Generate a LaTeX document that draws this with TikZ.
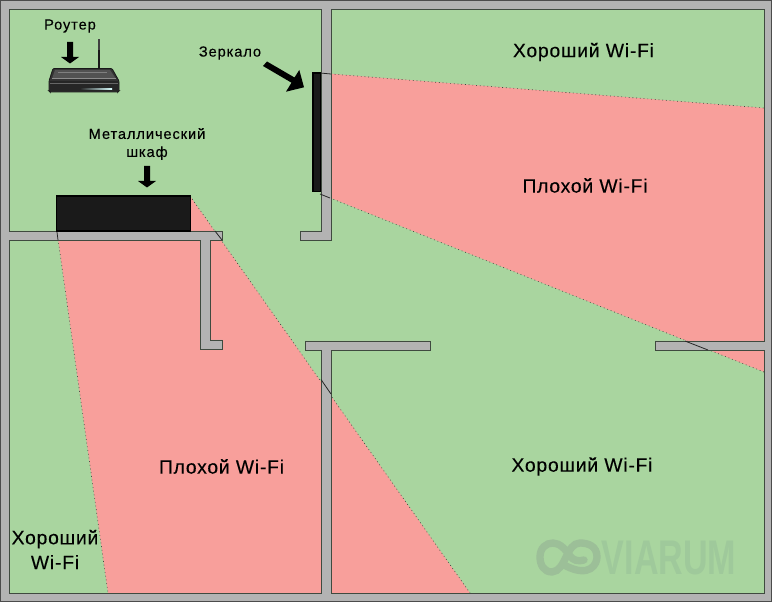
\documentclass[tikz,border=0pt]{standalone}
\usepackage{fontspec}
\setmainfont{Liberation Sans}
\newfontfamily\smallf[LetterSpace=6,FakeBold=0.15]{Liberation Sans}
\newfontfamily\bigf[LetterSpace=4,FakeBold=0.15]{Liberation Sans}
\definecolor{roomgreen}{HTML}{A9D59F}
\definecolor{badpink}{HTML}{F89F9B}
\definecolor{wallgray}{HTML}{B3B3B3}
\definecolor{edgedark}{HTML}{3F4A3F}
\definecolor{marksoft}{HTML}{9FC99B}
\definecolor{logosoft}{HTML}{9CBF98}
\definecolor{cabinetblack}{HTML}{1A1A1A}
\tikzset{
  wallline/.style={draw=edgedark,line width=.65pt,line join=miter},
  beamedge/.style={draw=edgedark,line width=.5pt,dash pattern=on .6pt off 2.2pt},
  beamwall/.style={draw=black!85,line width=.6pt},
  blockarrow/.style={fill=black,draw=none},
  smalllabel/.style={font=\fontsize{11pt}{13.5pt}\selectfont\smallf,text=black,inner sep=0pt,align=center},
  biglabel/.style={font=\fontsize{14.5pt}{18.6pt}\selectfont\bigf,text=black,inner sep=0pt,align=center},
  darkbox/.style={fill=cabinetblack,draw=black,line width=1pt}
}
\begin{document}
\begin{tikzpicture}[x=0.75pt,y=-0.75pt]
\useasboundingbox (0,0) rectangle (772,602);
\fill[wallgray] (0,0) rectangle (772,602);
\fill[roomgreen] (9,9) rectangle (764,593);
% pink zones
\fill[badpink] (321,73) -- (764,108) -- (764,372) -- (321,194) -- cycle;
\fill[badpink] (190,196) -- (470,593) -- (108,593) -- (57,232) -- cycle;
% beam edges
\draw[beamedge] (331,74) -- (764,108);
\draw[beamedge] (330,198) -- (764,372);
\draw[beamedge] (190,196) -- (470,593);
\draw[beamedge] (57,232) -- (108,593);
% walls
\path[fill=wallgray,even odd rule] (0,0) rectangle (772,602)
 (9,9) -- (321,9) -- (321,231) -- (300,231) -- (300,240) -- (331,240) -- (331,9) -- (764,9) -- (764,341) -- (655,341) -- (655,350) -- (764,350) -- (764,593) -- (331,593) -- (331,350) -- (430,350) -- (430,341) -- (305,341) -- (305,350) -- (321,350) -- (321,593) -- (9,593) -- (9,240) -- (200,240) -- (200,349) -- (222,349) -- (222,340) -- (210,340) -- (210,240) -- (222,240) -- (222,231) -- (9,231) -- cycle;
\draw[wallline]
 (9,9) -- (321,9) -- (321,231) -- (300,231) -- (300,240) -- (331,240) -- (331,9) -- (764,9) -- (764,341) -- (655,341) -- (655,350) -- (764,350) -- (764,593) -- (331,593) -- (331,350) -- (430,350) -- (430,341) -- (305,341) -- (305,350) -- (321,350) -- (321,593) -- (9,593) -- (9,240) -- (200,240) -- (200,349) -- (222,349) -- (222,340) -- (210,340) -- (210,240) -- (222,240) -- (222,231) -- (9,231) -- cycle;
\draw[draw=black!70,line width=.8pt] (.5,.5) rectangle (771.5,601.5);
% beam lines across walls
\draw[beamwall] (320,73) -- (331,74);
\draw[beamwall] (320,194) -- (330,198);
\draw[beamwall] (57,232) -- (58,240);
\draw[beamwall] (215,231) -- (222,240);
\draw[beamwall] (321,379.5) -- (331,394);
\draw[beamwall] (685,341) -- (708,350);
% cabinet and mirror
\path[darkbox] (56.5,196) rectangle (190.5,231);
\path[darkbox] (313,73) rectangle (320.5,191.5);
% arrows
\path[blockarrow] (67,42) -- (73,42) -- (73,57) -- (79,57) -- (70,63.5) -- (61,57) -- (67,57) -- cycle;
\path[blockarrow] (144,166) -- (150,166) -- (150,181) -- (156,181) -- (147,187.5) -- (138,181) -- (144,181) -- cycle;
\path[blockarrow] (263,66) -- (267,61.5) -- (294.5,77.5) -- (299.3,70) -- (304,87.3) -- (286,91.7) -- (291.5,82.7) -- cycle;
% router
\fill[black!75] (98.3,39) rectangle (99.7,50);
\fill[black!90] (98,50) rectangle (100,68);
\path[fill=black!80,draw=black!90,line width=.6pt,rounded corners=.8pt] (53,68.5) -- (112,68.5) -- (119,81) -- (119,91) -- (118,92) -- (50,92) -- (49,91) -- (49,81) -- cycle;
\fill[black!68] (52,79) -- (55,70) -- (110,70) -- (116,79) -- cycle;
\draw[black!50,line width=.5pt] (58,72) -- (107,72);
\draw[black!45,line width=.5pt] (52,78.5) -- (116,78.5);
\fill[black!85] (49.5,81) rectangle (118.5,91.5);
\draw[black!60,line width=.4pt] (50,83) -- (118,83);
\shade[left color=black!85,right color=cyan!15!white] (80,88.5) rectangle (112,89.3);
% labels
\node[smalllabel] (router) at (70,26) {Роутер};
\node[smalllabel] (mirror) at (230,53) {Зеркало};
\node[smalllabel] (cabinet) at (147,144) {Металлический\\шкаф};
\node[biglabel] (goodtop) at (583.5,52) {Хороший Wi-Fi};
\node[biglabel] (badtop) at (585,185.5) {Плохой Wi-Fi};
\node[biglabel] (badbottom) at (221.5,466.5) {Плохой Wi-Fi};
\node[biglabel] (goodbottom) at (582,466.5) {Хороший Wi-Fi};
\node[biglabel] (goodleft) at (55,549.5) {Хороший\\Wi-Fi};
% watermark
\draw[logosoft,line width=5.5pt,line cap=round]
 (566,566) .. controls (590,578) and (597,564) .. (597,557)
 .. controls (597,546) and (588,543) .. (580,543)
 .. controls (566,543) and (566,571) .. (552,572)
 .. controls (544,572) and (540,565) .. (540,557)
 .. controls (540,548) and (546,543) .. (553,543)
 .. controls (560,543) and (566,550) .. (570,556)
 .. controls (573,560) and (578,562) .. (584,560);
\node[font=\bfseries\fontsize{36.5pt}{36.5pt}\selectfont,text=marksoft,inner sep=0pt,xscale=.7] (mark) at (669,557.5) {VIARUM};
\end{tikzpicture}
\end{document}
